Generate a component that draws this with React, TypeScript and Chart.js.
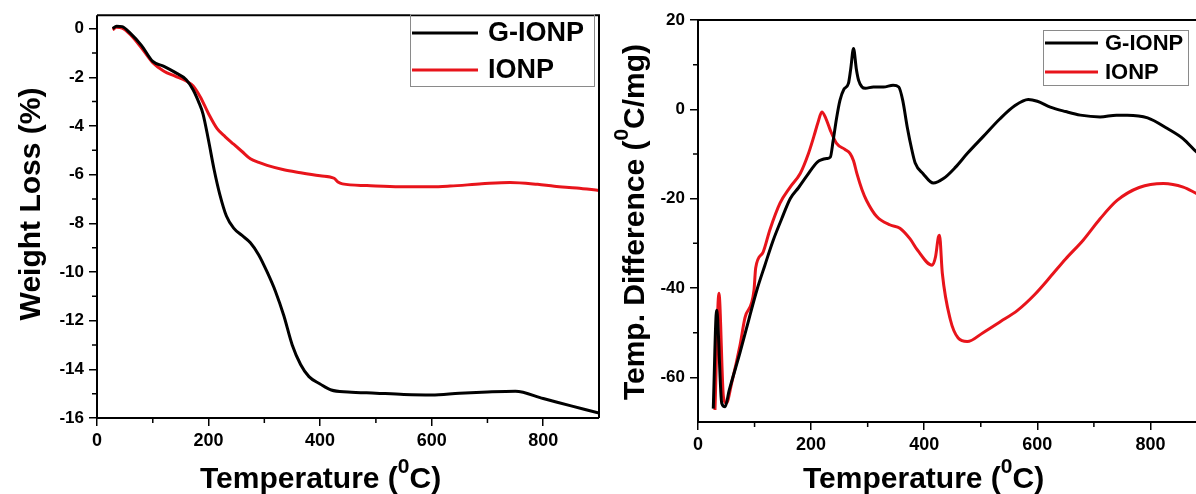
import React, { useEffect, useRef } from "react";
import { Chart, registerables } from "chart.js";

Chart.register(...registerables);

// ---------- Data: TGA (left panel) ----------
const tgaTempGIONP = [28, 35, 45, 60, 80, 100, 120, 140, 160, 172, 182, 190, 200, 210, 220, 232, 245, 260, 275, 290, 305, 320, 335, 350, 365, 380, 400, 420, 450, 500, 550, 600, 650, 700, 750, 800, 850, 900];
const tgaWeightGIONP = [0.0, 0.1, 0.08, -0.2, -0.7, -1.35, -1.55, -1.8, -2.1, -2.5, -3.0, -3.5, -4.6, -5.8, -6.8, -7.7, -8.2, -8.5, -8.8, -9.3, -10.0, -10.8, -11.8, -13.0, -13.8, -14.3, -14.6, -14.85, -14.93, -14.98, -15.03, -15.05, -14.98, -14.93, -14.9, -15.2, -15.5, -15.8];

const tgaTempIONP = [28, 35, 45, 60, 80, 100, 120, 140, 160, 172, 185, 200, 215, 230, 245, 260, 275, 290, 305, 335, 365, 400, 425, 432, 440, 484, 543, 600, 633, 690, 740, 790, 820, 860, 900];
const tgaWeightIONP = [-0.05, 0.05, 0.02, -0.25, -0.8, -1.4, -1.75, -1.95, -2.15, -2.35, -2.8, -3.5, -4.1, -4.45, -4.75, -5.05, -5.35, -5.5, -5.62, -5.8, -5.92, -6.05, -6.15, -6.3, -6.38, -6.45, -6.5, -6.5, -6.47, -6.38, -6.32, -6.4, -6.48, -6.55, -6.65];

// ---------- Data: DTA (right panel) ----------
const dtaTempGIONP = [27, 33, 42, 48, 55, 74, 90, 104, 118, 133, 148, 163, 178, 193, 211, 228, 234, 239, 245, 251, 258, 266, 270, 275, 280, 284, 290, 296, 310, 328, 345, 355, 362, 370, 378, 384, 398, 416, 434, 455, 476, 505, 534, 560, 584, 600, 623, 650, 676, 711, 740, 759, 795, 830, 858, 881, 900];
const dtaDiffGIONP = [-67, -45, -65.8, -66.6, -63, -54.6, -47, -40.5, -35, -29.3, -24.5, -20, -17.5, -14.8, -11.8, -11, -10.7, -7, -2, 2, 4.5, 5.8, 9, 13.6, 9, 6.5, 5, 4.7, 5, 5, 5.4, 5, 2, -4, -9, -12, -14.4, -16.5, -15.5, -13, -9.9, -6, -2.1, 0.8, 2.2, 1.8, 0.5, -0.5, -1.3, -1.7, -1.3, -1.3, -1.9, -4.3, -6.6, -9.5, -11.5];

const dtaTempIONP = [30, 37, 45, 50, 60, 74, 83, 99, 102, 115, 127, 145, 163, 181, 195, 205, 212, 219, 226, 234, 245, 260, 269, 275, 281, 290, 298, 316, 340, 357, 375, 388, 414, 420, 425, 427, 432, 446, 460, 476, 504, 535, 565, 595, 623, 650, 681, 711, 741, 780, 823, 858, 881, 900];
const dtaDiffIONP = [-67.3, -41.2, -64.4, -65.8, -61, -53, -46.7, -40.5, -35.5, -32, -27, -21, -17.4, -14.3, -10, -6, -3, -0.6, -2, -4.7, -7.6, -9, -9.9, -11.5, -14.4, -18, -20.4, -24, -25.9, -26.6, -29, -31.5, -34.9, -33, -28.6, -28.2, -36.7, -47, -51.2, -52, -50, -47.5, -45, -41.5, -37.5, -33.5, -29.3, -24.5, -20.4, -17.5, -16.6, -17.4, -18.8, -20];

// ---------- Ticks ----------
const tempTicks = [0, 200, 400, 600, 800];
const tempMinorTicks = [100, 300, 500, 700];
const weightTicks = [0, -2, -4, -6, -8, -10, -12, -14, -16];
const weightMinorTicks = [-1, -3, -5, -7, -9, -11, -13, -15];
const diffTicks = [20, 0, -20, -40, -60];
const diffMinorTicks = [10, -10, -30, -50];

const seriesNames = ["G-IONP", "IONP"];
const seriesColors = ["#000000", "#e8141b"];

const FONT = "'Liberation Sans', Arial, Helvetica, sans-serif";

type Part = { text: string; sup?: boolean };

function drawParts(ctx: CanvasRenderingContext2D, parts: Part[], x: number, y: number, size: number, supSize: number, raise: number) {
  let cx = x;
  for (const p of parts) {
    ctx.font = `bold ${p.sup ? supSize : size}px ${FONT}`;
    ctx.fillText(p.text, cx, p.sup ? y - raise : y);
    cx += ctx.measureText(p.text).width;
  }
}
function partsWidth(ctx: CanvasRenderingContext2D, parts: Part[], size: number, supSize: number) {
  let w = 0;
  for (const p of parts) {
    ctx.font = `bold ${p.sup ? supSize : size}px ${FONT}`;
    w += ctx.measureText(p.text).width;
  }
  return w;
}

type Decor = {
  rightBorder: boolean;
  xMinor: number[];
  yMinor: number[];
  xTitle: Part[];
  xTitleX: number;
  xTitleY: number;
  yTitle: Part[];
  yTitleX: number;
  yTitleCY: number;
  legend: { x0: number; y0: number; x1: number; y1: number; lineX0: number; lineX1: number; rows: number[]; textX: number; size: number };
};

function makeDecorPlugin(d: Decor) {
  return {
    id: "decor",
    afterDraw(chart: any) {
      const ctx: CanvasRenderingContext2D = chart.ctx;
      const a = chart.chartArea;
      const xs = chart.scales.x;
      const ys = chart.scales.y;
      ctx.save();
      // frame
      ctx.strokeStyle = "#000";
      ctx.lineWidth = 2;
      ctx.beginPath();
      ctx.moveTo(a.left, a.top);
      ctx.lineTo(a.left, a.bottom);
      ctx.lineTo(a.right, a.bottom);
      ctx.moveTo(a.left, a.top);
      ctx.lineTo(a.right, a.top);
      if (d.rightBorder) {
        ctx.lineTo(a.right, a.bottom);
      }
      ctx.stroke();
      // minor ticks
      ctx.lineWidth = 1.5;
      ctx.beginPath();
      for (const v of d.xMinor) {
        const px = xs.getPixelForValue(v);
        ctx.moveTo(px, a.bottom);
        ctx.lineTo(px, a.bottom + 5);
      }
      for (const v of d.yMinor) {
        const py = ys.getPixelForValue(v);
        ctx.moveTo(a.left - 5, py);
        ctx.lineTo(a.left, py);
      }
      ctx.stroke();
      // axis titles
      ctx.fillStyle = "#000";
      ctx.textAlign = "left";
      ctx.textBaseline = "alphabetic";
      drawParts(ctx, d.xTitle, d.xTitleX, d.xTitleY, 30, 21, 15);
      ctx.save();
      ctx.translate(d.yTitleX, d.yTitleCY);
      ctx.rotate(-Math.PI / 2);
      const w = partsWidth(ctx, d.yTitle, 30, 21);
      drawParts(ctx, d.yTitle, -w / 2, 0, 30, 21, 16);
      ctx.restore();
      // legend
      const L = d.legend;
      ctx.strokeStyle = "#8a8a8a";
      ctx.lineWidth = 1;
      ctx.strokeRect(L.x0 + 0.5, L.y0 + 0.5, L.x1 - L.x0, L.y1 - L.y0);
      ctx.textBaseline = "middle";
      ctx.font = `bold ${L.size}px ${FONT}`;
      L.rows.forEach((ry, i) => {
        ctx.strokeStyle = seriesColors[i];
        ctx.lineWidth = 3;
        ctx.beginPath();
        ctx.moveTo(L.lineX0, ry);
        ctx.lineTo(L.lineX1, ry);
        ctx.stroke();
        ctx.fillStyle = "#000";
        ctx.fillText(seriesNames[i], L.textX, ry + 1);
      });
      ctx.restore();
    },
  };
}

function toPoints(xs: number[], ys: number[]) {
  return xs.map((x, i) => ({ x, y: ys[i] }));
}

function buildConfig(opts: {
  data: { x: number; y: number }[][];
  yMin: number;
  yMax: number;
  yTicks: number[];
  yWidth: number;
  xHeight: number;
  padTop: number;
  padRight: number;
  decor: Decor;
}): any {
  return {
    type: "line",
    data: {
      datasets: opts.data.map((pts, i) => ({
        label: seriesNames[i],
        data: pts,
        borderColor: seriesColors[i],
        backgroundColor: seriesColors[i],
        borderWidth: 3,
        pointRadius: 0,
        cubicInterpolationMode: "monotone",
        fill: false,
      })),
    },
    options: {
      animation: false,
      responsive: false,
      devicePixelRatio: 1,
      layout: { padding: { top: opts.padTop, right: opts.padRight, left: 0, bottom: 0 } },
      plugins: { legend: { display: false }, tooltip: { enabled: false } },
      scales: {
        x: {
          type: "linear",
          min: 0,
          max: 900,
          afterBuildTicks: (s: any) => {
            s.ticks = tempTicks.map((v) => ({ value: v }));
          },
          afterFit: (s: any) => {
            s.height = opts.xHeight;
          },
          grid: { display: true, drawOnChartArea: false, drawTicks: true, tickLength: 8, color: "#000", lineWidth: 1.5 },
          border: { display: false },
          ticks: { color: "#000", font: { family: FONT, size: 18, weight: "bold" }, padding: 4, maxRotation: 0, autoSkip: false },
        },
        y: {
          type: "linear",
          min: opts.yMin,
          max: opts.yMax,
          afterBuildTicks: (s: any) => {
            s.ticks = opts.yTicks.map((v) => ({ value: v }));
          },
          afterFit: (s: any) => {
            s.width = opts.yWidth;
          },
          grid: { display: true, drawOnChartArea: false, drawTicks: true, tickLength: 8, color: "#000", lineWidth: 1.5 },
          border: { display: false },
          ticks: { color: "#000", font: { family: FONT, size: 17, weight: "bold" }, padding: 5, autoSkip: false },
        },
      },
    },
    plugins: [makeDecorPlugin(opts.decor)],
  };
}

function ChartCanvas({ config, left, width, height }: { config: () => any; left: number; width: number; height: number }) {
  const ref = useRef<HTMLCanvasElement | null>(null);
  useEffect(() => {
    if (!ref.current) return;
    const chart = new Chart(ref.current, config());
    return () => chart.destroy();
  }, []);
  return (
    <canvas
      ref={ref}
      width={width}
      height={height}
      style={{ position: "absolute", left, top: 0, width, height, display: "block" }}
    />
  );
}

export default function App() {
  const leftConfig = () =>
    buildConfig({
      data: [toPoints(tgaTempGIONP, tgaWeightGIONP), toPoints(tgaTempIONP, tgaWeightIONP)],
      yMin: -16,
      yMax: 0.55,
      yTicks: weightTicks,
      yWidth: 97,
      xHeight: 76,
      padTop: 15,
      padRight: 5,
      decor: {
        rightBorder: true,
        xMinor: tempMinorTicks,
        yMinor: weightMinorTicks,
        xTitle: [{ text: "Temperature (" }, { text: "0", sup: true }, { text: "C)" }],
        xTitleX: 200,
        xTitleY: 488,
        yTitle: [{ text: "Weight Loss (%)" }],
        yTitleX: 40,
        yTitleCY: 204,
        legend: { x0: 410, y0: 14, x1: 594, y1: 86, lineX0: 412, lineX1: 478, rows: [33, 70], textX: 488, size: 27 },
      },
    });
  const rightConfig = () =>
    buildConfig({
      data: [toPoints(dtaTempGIONP, dtaDiffGIONP), toPoints(dtaTempIONP, dtaDiffIONP)],
      yMin: -70,
      yMax: 20,
      yTicks: diffTicks,
      yWidth: 98,
      xHeight: 72,
      padTop: 20,
      padRight: 5,
      decor: {
        rightBorder: false,
        xMinor: tempMinorTicks,
        yMinor: diffMinorTicks,
        xTitle: [{ text: "Temperature (" }, { text: "0", sup: true }, { text: "C)" }],
        xTitleX: 203,
        xTitleY: 488,
        yTitle: [{ text: "Temp. Difference (" }, { text: "0", sup: true }, { text: "C/mg)" }],
        yTitleX: 44,
        yTitleCY: 222,
        legend: { x0: 443, y0: 30, x1: 588, y1: 85, lineX0: 445, lineX1: 498, rows: [43, 72], textX: 505, size: 22 },
      },
    });
  return (
    <div style={{ position: "fixed", left: 0, top: 0, width: 1196, height: 494, overflow: "hidden", background: "#fff" }}>
      <ChartCanvas config={leftConfig} left={0} width={604} height={494} />
      <ChartCanvas config={rightConfig} left={600} width={612} height={494} />
    </div>
  );
}
